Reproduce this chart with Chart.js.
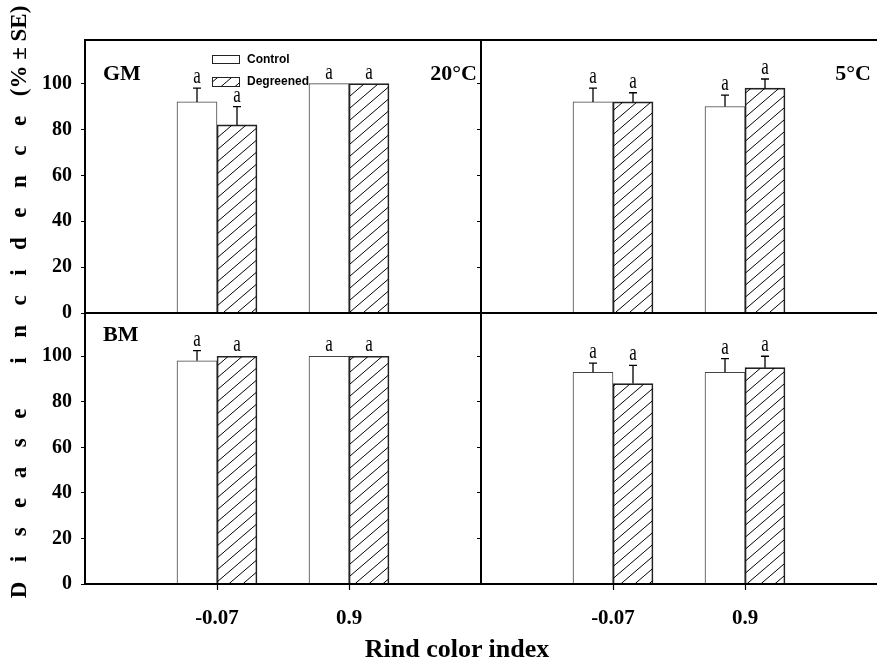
<!DOCTYPE html>
<html lang="en">
<head>
<meta charset="UTF-8">
<title>Disease incidence by rind color index</title>
<script src="https://cdn.jsdelivr.net/npm/chart.js"></script>
<style>
  html, body { margin: 0; padding: 0; background: #fff; }
  #wrap { position: relative; width: 877px; height: 663px; overflow: hidden; }
  #wrap canvas { position: absolute; left: 0; top: 0; }
  .ytitle {
    position: absolute; left: -279px; top: 287px; width: 600px; height: 30px;
    line-height: 30px; text-align: center; white-space: nowrap;
    transform: rotate(-90deg);
    font: bold 23px 'Liberation Serif', serif; color: #000;
  }
  .spaced { letter-spacing: 19.5px; }
  .xtitle {
    position: absolute; left: 0; top: 634px; width: 914px; line-height: 30px;
    text-align: center; font: bold 26px 'Liberation Serif', serif; color: #000;
  }
</style>
</head>
<body>
<div id="wrap">
  <canvas id="gm20" width="900" height="663"></canvas>
  <canvas id="gm5" width="900" height="663"></canvas>
  <canvas id="bm20" width="900" height="663"></canvas>
  <canvas id="bm5" width="900" height="663"></canvas>
  <div class="ytitle"><span class="spaced">Disease incidence</span>(% ± SE)</div>
  <div class="xtitle">Rind color index</div>
</div>

<script>
// categories (empty slots at both ends give the spacing of the original axis)
var categories = ['', '-0.07', '0.9', ''];
var yTicks = [0, 20, 40, 60, 80, 100];

// GM, 20°C
var gm20Control = [null, 92, 100, null];
var gm20ControlSE = [null, 6, 0, null];
var gm20Degreened = [null, 82, 100, null];
var gm20DegreenedSE = [null, 8, 0, null];

// GM, 5°C
var gm5Control = [null, 92, 90, null];
var gm5ControlSE = [null, 6, 5, null];
var gm5Degreened = [null, 92, 98, null];
var gm5DegreenedSE = [null, 4, 4, null];

// BM, 20°C
var bm20Control = [null, 98, 100, null];
var bm20ControlSE = [null, 4.5, 0, null];
var bm20Degreened = [null, 100, 100, null];
var bm20DegreenedSE = [null, 0, 0, null];

// BM, 5°C
var bm5Control = [null, 93, 93, null];
var bm5ControlSE = [null, 4, 6, null];
var bm5Degreened = [null, 88, 95, null];
var bm5DegreenedSE = [null, 8, 5, null];

// significance letters
var sigLetters = [null, 'a', 'a', null];

var serif = "'Liberation Serif', serif";
var canvasW = 900, canvasH = 663;

function makeHatch() {
  var c = document.createElement('canvas');
  c.width = 14; c.height = 12;
  var g = c.getContext('2d');
  g.strokeStyle = '#000';
  g.lineWidth = 1;
  g.beginPath();
  g.moveTo(0, 12);
  g.lineTo(14, 0);
  g.stroke();
  return g.createPattern(c, 'repeat');
}
var hatch = makeHatch();

// error bars, letters, frame, x ticks, panel tags and legend
var panelDeco = {
  id: 'panelDeco',
  afterDatasetsDraw: function(chart, args, opts) {
    var ctx = chart.ctx, a = chart.chartArea, ys = chart.scales.y, xs = chart.scales.x;
    ctx.save();
    chart.data.datasets.forEach(function(ds, di) {
      var meta = chart.getDatasetMeta(di);
      meta.data.forEach(function(bar, i) {
        var v = ds.data[i];
        if (v == null) return;
        var top = bar.y;
        var se = ds.se[i];
        if (se > 0) {
          var ey = ys.getPixelForValue(v + se);
          ctx.strokeStyle = '#000';
          ctx.lineWidth = 1.3;
          ctx.beginPath();
          ctx.moveTo(bar.x, top);
          ctx.lineTo(bar.x, ey);
          ctx.moveTo(bar.x - 4, ey);
          ctx.lineTo(bar.x + 4, ey);
          ctx.stroke();
          top = ey;
        }
        if (ds.letters[i]) {
          ctx.save();
          ctx.translate(bar.x, top - 5);
          ctx.scale(1, 1.3);
          ctx.fillStyle = '#000';
          ctx.font = '17px ' + serif;
          ctx.textAlign = 'center';
          ctx.textBaseline = 'alphabetic';
          ctx.fillText(ds.letters[i], 0, 0);
          ctx.restore();
        }
      });
    });

    // frame
    ctx.strokeStyle = '#000';
    ctx.lineWidth = 2;
    ctx.beginPath();
    ctx.moveTo(a.right, a.top);
    ctx.lineTo(a.left, a.top);
    ctx.lineTo(a.left, a.bottom);
    ctx.lineTo(a.right, a.bottom);
    ctx.stroke();

    // x tick marks under the bottom panels
    if (opts.xTicks) {
      ctx.lineWidth = 1.2;
      ctx.beginPath();
      categories.forEach(function(lab, i) {
        if (!lab) return;
        var px = Math.round(xs.getPixelForValue(i)) + 0.5;
        ctx.moveTo(px, a.bottom);
        ctx.lineTo(px, a.bottom + 6);
      });
      ctx.stroke();
    }

    // panel tags
    ctx.fillStyle = '#000';
    ctx.font = 'bold 22px ' + serif;
    ctx.textBaseline = 'alphabetic';
    if (opts.leftTag) {
      ctx.textAlign = 'left';
      ctx.fillText(opts.leftTag, a.left + 18, a.top + opts.tagY);
    }
    if (opts.rightTag) {
      ctx.textAlign = 'right';
      ctx.fillText(opts.rightTag, a.right - opts.rightInset, a.top + opts.tagY);
    }

    // legend
    if (opts.legend) {
      var ds0 = chart.data.datasets[0], ds1 = chart.data.datasets[1];
      ctx.lineWidth = 1;
      ctx.strokeStyle = '#222';
      ctx.fillStyle = '#fff';
      ctx.fillRect(212.5, 55.5, 27, 8);
      ctx.strokeRect(212.5, 55.5, 27, 8);
      ctx.fillStyle = hatch;
      ctx.fillRect(212.5, 77.5, 27, 9);
      ctx.strokeRect(212.5, 77.5, 27, 9);
      ctx.fillStyle = '#000';
      ctx.font = "bold 12px 'Liberation Sans', sans-serif";
      ctx.textAlign = 'left';
      ctx.textBaseline = 'middle';
      ctx.fillText(ds0.label, 247, 60);
      ctx.fillText(ds1.label, 247, 82);
    }
    ctx.restore();
  }
};

function makePanel(id, area, ctrl, ctrlSE, degr, degrSE, showY, showX, deco) {
  var padding = {
    left: area.left - 60,
    top: area.top,
    right: canvasW - area.right,
    bottom: canvasH - area.bottom - 50
  };
  deco.xTicks = showX;
  new Chart(document.getElementById(id), {
    type: 'bar',
    data: {
      labels: categories,
      datasets: [{
        label: 'Control',
        data: ctrl,
        se: ctrlSE,
        letters: sigLetters,
        backgroundColor: '#fff',
        borderColor: '#444',
        borderWidth: 1,
        barThickness: 40
      }, {
        label: 'Degreened',
        data: degr,
        se: degrSE,
        letters: sigLetters,
        backgroundColor: hatch,
        borderColor: '#222',
        borderWidth: 1,
        barThickness: 40
      }]
    },
    options: {
      responsive: false,
      animation: false,
      layout: { padding: padding },
      plugins: {
        legend: { display: false },
        tooltip: { enabled: false },
        panelDeco: deco
      },
      scales: {
        x: {
          offset: false,
          border: { display: false },
          grid: { display: false },
          ticks: {
            display: showX,
            autoSkip: false,
            maxRotation: 0,
            color: '#000',
            padding: 14,
            font: { family: serif, size: 21, weight: 'bold' }
          },
          afterFit: function(s) { s.height = 50; }
        },
        y: {
          min: 0,
          max: 119,
          border: { display: false },
          grid: { drawOnChartArea: false, tickLength: 4, tickColor: '#000', lineWidth: 1 },
          afterBuildTicks: function(s) { s.ticks = yTicks.map(function(v) { return { value: v }; }); },
          ticks: {
            color: showY ? '#000' : 'rgba(0,0,0,0)',
            padding: 9,
            font: { family: serif, size: 20, weight: 'bold' }
          },
          afterFit: function(s) { s.width = 60; }
        }
      }
    },
    plugins: [panelDeco]
  });
}

makePanel('gm20', { left: 85, right: 481, top: 40, bottom: 313 },
  gm20Control, gm20ControlSE, gm20Degreened, gm20DegreenedSE, true, false,
  { leftTag: 'GM', rightTag: '20°C', tagY: 40, rightInset: 4, legend: true });
makePanel('gm5', { left: 481, right: 877, top: 40, bottom: 313 },
  gm5Control, gm5ControlSE, gm5Degreened, gm5DegreenedSE, false, false,
  { rightTag: '5°C', tagY: 40, rightInset: 6 });
makePanel('bm20', { left: 85, right: 481, top: 313, bottom: 584 },
  bm20Control, bm20ControlSE, bm20Degreened, bm20DegreenedSE, true, true,
  { leftTag: 'BM', tagY: 28 });
makePanel('bm5', { left: 481, right: 877, top: 313, bottom: 584 },
  bm5Control, bm5ControlSE, bm5Degreened, bm5DegreenedSE, false, true,
  {});
</script>
</body>
</html>
